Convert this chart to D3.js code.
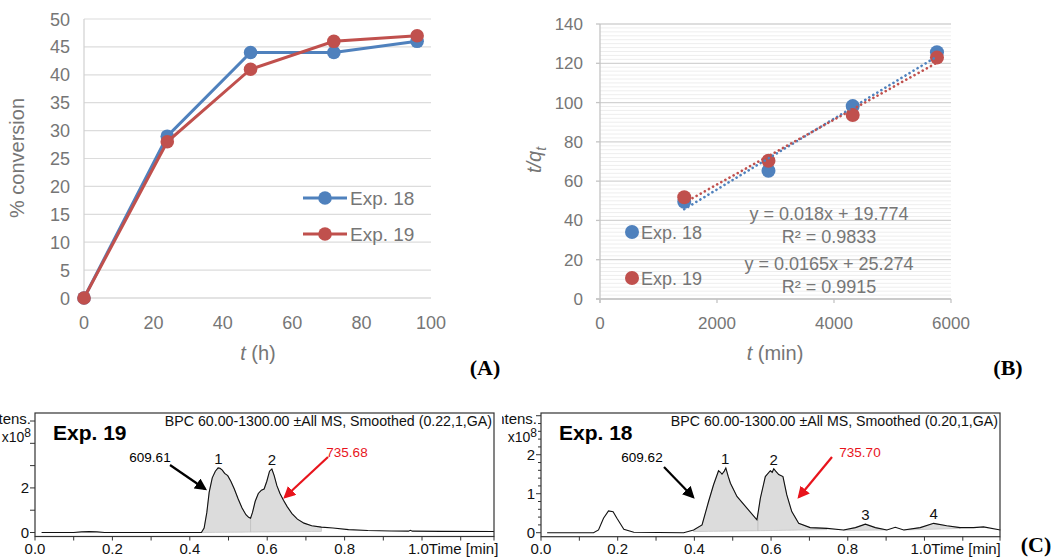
<!DOCTYPE html>
<html>
<head>
<meta charset="utf-8">
<script src="https://cdn.jsdelivr.net/npm/d3@7"></script>
<style>
body { margin: 0; background: #fff; }
text { font-family: "Liberation Sans", Arial, sans-serif; }
</style>
</head>
<body>
<div id="chart"></div>
<script>
var width_chart = 1057,
    height_chart = 558;

var color_18 = "#4f81bd";
var color_19 = "#c0504d";
var color_txt = "#767676";

// (A) conversion vs time
var conv_hours = [0, 24, 48, 72, 96];
var conv_exp18 = [0, 29, 44, 44, 46];
var conv_exp19 = [0, 28, 41, 46, 47];
var conv_ticks_y = [0, 5, 10, 15, 20, 25, 30, 35, 40, 45, 50];
var conv_ticks_x = [0, 20, 40, 60, 80, 100];

// (B) pseudo second order plot
var kin_minutes = [1440, 2880, 4320, 5760];
var kin_exp18 = [49.5, 65.3, 98.2, 125.6];
var kin_exp19 = [51.8, 70.4, 93.7, 122.9];
var kin_ticks_y = [0, 20, 40, 60, 80, 100, 120, 140];
var kin_ticks_x = [0, 2000, 4000, 6000];
var fit_slope = [0.018, 0.0165];
var fit_intercept = [19.774, 25.274];
var fit_eq = ["y = 0.018x + 19.774", "y = 0.0165x + 25.274"];
var fit_r2 = ["R\u00b2 = 0.9833", "R\u00b2 = 0.9915"];
var series_names = ["Exp. 18", "Exp. 19"];

// (C) chromatograms, time [min] / intensity x10^8
var exp19_time = [0.017, 0.10, 0.12, 0.14, 0.16, 0.18, 0.43, 0.437, 0.444, 0.45, 0.458, 0.466, 0.473, 0.478, 0.484, 0.49, 0.498, 0.506, 0.515, 0.525, 0.535, 0.545, 0.552, 0.557, 0.562, 0.569, 0.577, 0.585, 0.592, 0.599, 0.606, 0.612, 0.618, 0.625, 0.633, 0.642, 0.652, 0.664, 0.678, 0.695, 0.715, 0.74, 0.77, 0.81, 0.86, 0.92, 0.965, 0.97, 0.975, 1.05, 1.186];
var exp19_int = [0, 0, 0.03, 0.04, 0.03, 0, 0, 0.2, 0.9, 1.8, 2.45, 2.75, 2.9, 2.88, 2.8, 2.65, 2.55, 2.3, 1.95, 1.5, 1.1, 0.8, 0.68, 0.64, 0.9, 1.4, 1.75, 1.9, 1.95, 2.3, 2.75, 2.85, 2.55, 2.1, 1.75, 1.45, 1.15, 0.85, 0.6, 0.42, 0.3, 0.24, 0.2, 0.13, 0.09, 0.07, 0.06, 0.1, 0.06, 0.05, 0.045];
// [start, end, baseline at start, baseline at end]
var exp19_peaks = [[0.43, 0.557, 0, 0.02], [0.557, 0.74, 0.02, 0.05]];
var exp19_marks = [{ t: 0.474, v: 2.9, s: "1" }, { t: 0.612, v: 2.85, s: "2" }];

var exp18_time = [0.016, 0.137, 0.15, 0.163, 0.176, 0.188, 0.198, 0.216, 0.242, 0.372, 0.398, 0.42, 0.437, 0.45, 0.463, 0.468, 0.472, 0.478, 0.482, 0.488, 0.494, 0.511, 0.537, 0.563, 0.566, 0.572, 0.585, 0.598, 0.603, 0.607, 0.612, 0.62, 0.631, 0.641, 0.654, 0.672, 0.702, 0.746, 0.789, 0.82, 0.846, 0.872, 0.902, 0.924, 0.946, 0.989, 1.024, 1.058, 1.093, 1.128, 1.154, 1.198];
var exp18_int = [0, 0, 0.07, 0.37, 0.56, 0.54, 0.37, 0.09, 0.01, 0, 0.07, 0.2, 0.8, 1.23, 1.59, 1.55, 1.5, 1.58, 1.66, 1.45, 1.27, 0.93, 0.63, 0.33, 0.5, 0.88, 1.44, 1.59, 1.55, 1.64, 1.58, 1.49, 1.44, 0.97, 0.54, 0.24, 0.13, 0.11, 0.07, 0.13, 0.22, 0.13, 0.07, 0.14, 0.07, 0.13, 0.24, 0.18, 0.13, 0.13, 0.15, 0.07];
var exp18_peaks = [[0.398, 0.566, 0.03, 0.05], [0.566, 0.746, 0.05, 0.08], [0.789, 0.902, 0.06, 0.07], [0.946, 1.093, 0.07, 0.11]];
var exp18_marks = [{ t: 0.48, v: 1.66, s: "1" }, { t: 0.607, v: 1.64, s: "2" }, { t: 0.846, v: 0.22, s: "3" }, { t: 1.024, v: 0.24, s: "4" }];

var svg = d3.select("#chart").append("svg")
    .attr("width", width_chart)
    .attr("height", height_chart);

var defs = svg.append("defs");
[["head_black", "#000"], ["head_red", "#e8141c"]].forEach(function(m) {
	defs.append("marker")
		.attr("id", m[0])
		.attr("viewBox", "0 0 10 10")
		.attr("refX", 8).attr("refY", 5)
		.attr("markerWidth", 5.5).attr("markerHeight", 5.5)
		.attr("markerUnits", "strokeWidth")
		.attr("orient", "auto")
		.append("path")
		.attr("d", "M0,0 L10,5 L0,10 z")
		.style("fill", m[1]);
});
// the right chromatogram's y label is cropped by the left panel in the figure
defs.append("clipPath").attr("id", "clip_right")
	.append("rect").attr("x", 502).attr("y", 400).attr("width", 600).attr("height", 160);

/* ---------- (A) ---------- */
var xA = d3.scaleLinear().domain([0, 100]).range([84, 431]);
var yA = d3.scaleLinear().domain([0, 50]).range([298, 19]);
var gA = svg.append("g");

gA.selectAll("line.grid").data(conv_ticks_y).enter().append("line")
	.attr("x1", xA(0)).attr("x2", xA(100))
	.attr("y1", function(d) { return yA(d); })
	.attr("y2", function(d) { return yA(d); })
	.style("stroke", function(d) { return d == 0 ? "#c8c8c8" : "#dcdcdc"; })
	.style("stroke-width", 1.2);
gA.append("line")
	.attr("x1", xA(0)).attr("x2", xA(0))
	.attr("y1", yA(50)).attr("y2", yA(0))
	.style("stroke", "#d0d0d0").style("stroke-width", 1.2);

gA.selectAll("text.ty").data(conv_ticks_y).enter().append("text")
	.attr("x", 70).attr("y", function(d) { return yA(d) + 6.5; })
	.attr("text-anchor", "end")
	.style("font-size", "18px").style("fill", color_txt)
	.text(function(d) { return d; });
gA.selectAll("text.tx").data(conv_ticks_x).enter().append("text")
	.attr("x", function(d) { return xA(d); }).attr("y", 329)
	.attr("text-anchor", "middle")
	.style("font-size", "18px").style("fill", color_txt)
	.text(function(d) { return d; });

gA.append("text")
	.attr("transform", "translate(24,158) rotate(-90)")
	.attr("text-anchor", "middle")
	.style("font-size", "20px").style("fill", color_txt)
	.text("% conversion");
var labA = gA.append("text")
	.attr("x", 258).attr("y", 360)
	.attr("text-anchor", "middle")
	.style("font-size", "20px").style("fill", color_txt);
labA.append("tspan").style("font-style", "italic").text("t");
labA.append("tspan").text(" (h)");

var lineA = d3.line()
	.x(function(d) { return xA(d[0]); })
	.y(function(d) { return yA(d[1]); });

[[conv_exp18, color_18], [conv_exp19, color_19]].forEach(function(s) {
	var pts = conv_hours.map(function(h, i) { return [h, s[0][i]]; });
	gA.append("path").datum(pts)
		.attr("d", lineA)
		.style("fill", "none").style("stroke", s[1]).style("stroke-width", 3);
	gA.selectAll(null).data(pts).enter().append("circle")
		.attr("cx", function(d) { return xA(d[0]); })
		.attr("cy", function(d) { return yA(d[1]); })
		.attr("r", 6.8)
		.style("fill", s[1]);
});

// legend A
[[color_18, 198], [color_19, 234]].forEach(function(l, i) {
	gA.append("line").attr("x1", 303).attr("x2", 347).attr("y1", l[1]).attr("y2", l[1])
		.style("stroke", l[0]).style("stroke-width", 3);
	gA.append("circle").attr("cx", 325).attr("cy", l[1]).attr("r", 6.8).style("fill", l[0]);
	gA.append("text").attr("x", 350).attr("y", l[1] + 7)
		.style("font-size", "19px").style("fill", color_txt)
		.text(series_names[i]);
});

/* ---------- (B) ---------- */
var xB = d3.scaleLinear().domain([0, 6000]).range([600, 951]);
var yB = d3.scaleLinear().domain([0, 140]).range([299, 24]);
var gB = svg.append("g");

gB.selectAll("line.minor").data(d3.range(0, 141, 2)).enter().append("line")
	.attr("x1", xB(0)).attr("x2", xB(6000))
	.attr("y1", function(d) { return yB(d); })
	.attr("y2", function(d) { return yB(d); })
	.style("stroke", function(d) { return d % 20 == 0 ? "#d3d3d3" : "#eeeeee"; })
	.style("stroke-width", function(d) { return d % 20 == 0 ? 1.3 : 1; });
gB.append("line")
	.attr("x1", xB(0)).attr("x2", xB(0)).attr("y1", yB(140)).attr("y2", yB(0) + 4)
	.style("stroke", "#c4c4c4").style("stroke-width", 1.3);
gB.append("line")
	.attr("x1", xB(0) - 4).attr("x2", xB(6000)).attr("y1", yB(0)).attr("y2", yB(0))
	.style("stroke", "#c4c4c4").style("stroke-width", 1.3);
gB.selectAll("line.tky").data(kin_ticks_y).enter().append("line")
	.attr("x1", xB(0) - 4).attr("x2", xB(0))
	.attr("y1", function(d) { return yB(d); }).attr("y2", function(d) { return yB(d); })
	.style("stroke", "#c4c4c4").style("stroke-width", 1.3);
gB.selectAll("line.tkx").data(kin_ticks_x).enter().append("line")
	.attr("x1", function(d) { return xB(d); }).attr("x2", function(d) { return xB(d); })
	.attr("y1", yB(0)).attr("y2", yB(0) + 4)
	.style("stroke", "#c4c4c4").style("stroke-width", 1.3);

gB.selectAll("text.ty").data(kin_ticks_y).enter().append("text")
	.attr("x", 583).attr("y", function(d) { return yB(d) + 6; })
	.attr("text-anchor", "end")
	.style("font-size", "17px").style("fill", color_txt)
	.text(function(d) { return d; });
gB.selectAll("text.tx").data(kin_ticks_x).enter().append("text")
	.attr("x", function(d) { return xB(d); }).attr("y", 329)
	.attr("text-anchor", "middle")
	.style("font-size", "17px").style("fill", color_txt)
	.text(function(d) { return d; });

var labBy = gB.append("text")
	.attr("transform", "translate(541,160) rotate(-90)")
	.attr("text-anchor", "middle")
	.style("font-size", "20px").style("fill", color_txt).style("font-style", "italic");
labBy.append("tspan").text("t/q");
labBy.append("tspan").attr("dy", 5).style("font-size", "14px").text("t");
var labBx = gB.append("text")
	.attr("x", 775).attr("y", 360)
	.attr("text-anchor", "middle")
	.style("font-size", "20px").style("fill", color_txt);
labBx.append("tspan").style("font-style", "italic").text("t");
labBx.append("tspan").text(" (min)");

// markers and dotted trend lines
[[kin_exp18, color_18], [kin_exp19, color_19]].forEach(function(s, k) {
	gB.selectAll(null).data(kin_minutes).enter().append("circle")
		.attr("cx", function(d) { return xB(d); })
		.attr("cy", function(d, i) { return yB(s[0][i]); })
		.attr("r", 7)
		.style("fill", s[1]);
});
[color_18, color_19].forEach(function(c, k) {
	var x0 = d3.min(kin_minutes), x1 = d3.max(kin_minutes);
	gB.append("line")
		.attr("x1", xB(x0)).attr("y1", yB(fit_slope[k] * x0 + fit_intercept[k]))
		.attr("x2", xB(x1)).attr("y2", yB(fit_slope[k] * x1 + fit_intercept[k]))
		.style("stroke", c).style("stroke-width", 2.6)
		.style("stroke-linecap", "round")
		.style("stroke-dasharray", "0.1,4.6");
});

[[color_18, 232], [color_19, 278]].forEach(function(l, i) {
	gB.append("circle").attr("cx", 632).attr("cy", l[1]).attr("r", 7).style("fill", l[0]);
	gB.append("text").attr("x", 641).attr("y", l[1] + 7)
		.style("font-size", "18px").style("fill", color_txt)
		.text(series_names[i]);
});
[[213, 236], [263, 286]].forEach(function(p, i) {
	gB.append("text").attr("x", 829).attr("y", p[0] + 7).attr("text-anchor", "middle")
		.style("font-size", "18px").style("fill", color_txt).text(fit_eq[i]);
	gB.append("text").attr("x", 829).attr("y", p[1] + 7).attr("text-anchor", "middle")
		.style("font-size", "18px").style("fill", color_txt).text(fit_r2[i]);
});

/* ---------- panel letters ---------- */
[["(A)", 485, 375], ["(B)", 1008, 375], ["(C)", 1036, 552]].forEach(function(p) {
	svg.append("text").attr("x", p[1]).attr("y", p[2]).attr("text-anchor", "middle")
		.style("font-family", "'Liberation Serif', 'Times New Roman', serif")
		.style("font-weight", "bold").style("font-size", "22px")
		.text(p[0]);
});

/* ---------- (C) chromatograms ---------- */
function drawChrom(cfg) {
	var x = d3.scaleLinear().domain([0, cfg.xmax]).range([cfg.left, cfg.right]);
	var y = d3.scaleLinear().domain([0, cfg.ymax]).range([cfg.bottom, cfg.top]);
	var g = svg.append("g");
	var pts = cfg.time.map(function(t, i) { return [t, cfg.inten[i]]; });

	// shaded peaks
	cfg.peaks.forEach(function(pk) {
		var seg = pts.filter(function(d) { return d[0] >= pk[0] - 1e-9 && d[0] <= pk[1] + 1e-9; });
		var base = d3.scaleLinear().domain([pk[0], pk[1]]).range([pk[2], pk[3]]);
		g.append("path").datum(seg)
			.attr("d", d3.area()
				.x(function(d) { return x(d[0]); })
				.y0(function(d) { return y(Math.min(base(d[0]), d[1])); })
				.y1(function(d) { return y(d[1]); }))
			.style("fill", "#dcdcdc").style("stroke", "#bdbdbd").style("stroke-width", 0.7);
	});

	g.append("path").datum(pts)
		.attr("d", d3.line().x(function(d) { return x(d[0]); }).y(function(d) { return y(d[1]); }))
		.style("fill", "none").style("stroke", "#111").style("stroke-width", 1.1);

	g.append("rect")
		.attr("x", cfg.left).attr("y", cfg.top)
		.attr("width", cfg.right - cfg.left).attr("height", cfg.bottom + 4 - cfg.top)
		.style("fill", "none").style("stroke", "#333").style("stroke-width", 1.2);

	// y ticks
	g.selectAll(null).data(cfg.yticks).enter().append("line")
		.attr("x1", function(d) { return cfg.left - (d % 1 == 0 ? 5 : 3); }).attr("x2", cfg.left)
		.attr("y1", function(d) { return y(d); }).attr("y2", function(d) { return y(d); })
		.style("stroke", "#333").style("stroke-width", 1);
	g.selectAll(null).data(cfg.ylabels).enter().append("text")
		.attr("x", cfg.left - 6).attr("y", function(d) { return y(d) + 5.5; })
		.attr("text-anchor", "end")
		.style("font-size", "15px").style("fill", "#111")
		.text(function(d) { return d; });
	var ylab = g.append("g").attr("clip-path", cfg.clip ? "url(#" + cfg.clip + ")" : null);
	ylab.append("text").attr("x", cfg.left - 4).attr("y", 424).attr("text-anchor", "end")
		.style("font-size", "15px").style("fill", "#111").text("Intens.");
	var mult = ylab.append("text").attr("x", cfg.left - 4).attr("y", 442).attr("text-anchor", "end")
		.style("font-size", "14px").style("fill", "#111");
	mult.append("tspan").text("x10");
	mult.append("tspan").attr("dy", -5).style("font-size", "12px").text("8");

	// x ticks
	var xt = d3.range(0, cfg.xmax + 0.001, 0.1);
	g.selectAll(null).data(xt).enter().append("line")
		.attr("x1", function(d) { return x(d); }).attr("x2", function(d) { return x(d); })
		.attr("y1", cfg.bottom + 4).attr("y2", cfg.bottom + 8)
		.style("stroke", "#333").style("stroke-width", 1);
	g.append("line")
		.attr("x1", cfg.right).attr("x2", cfg.right).attr("y1", cfg.bottom + 4).attr("y2", cfg.bottom + 8)
		.style("stroke", "#333");
	g.selectAll(null).data([0, 0.2, 0.4, 0.6, 0.8]).enter().append("text")
		.attr("x", function(d) { return x(d); }).attr("y", 554)
		.attr("text-anchor", "middle")
		.style("font-size", "15px").style("fill", "#111")
		.text(function(d) { return d.toFixed(1); });
	g.append("text").attr("x", x(1.0) - 14).attr("y", 554)
		.style("font-size", "15px").style("fill", "#111").text("1.0Time [min]");

	g.append("text").attr("x", cfg.right - 2).attr("y", 426).attr("text-anchor", "end")
		.style("font-size", "14.2px").style("fill", "#111").text(cfg.title);
	g.append("text").attr("x", cfg.left + 18).attr("y", 440)
		.style("font-size", "21px").style("font-weight", "bold").style("fill", "#000")
		.text(cfg.name);

	g.selectAll(null).data(cfg.marks).enter().append("text")
		.attr("x", function(d) { return x(d.t); })
		.attr("y", function(d) { return y(d.v) - 4; })
		.attr("text-anchor", "middle")
		.style("font-size", "15px").style("fill", "#111")
		.text(function(d) { return d.s; });

	cfg.arrows.forEach(function(a) {
		g.append("line")
			.attr("x1", a.x1).attr("y1", a.y1).attr("x2", a.x2).attr("y2", a.y2)
			.style("stroke", a.color).style("stroke-width", 2.2)
			.attr("marker-end", "url(#" + a.head + ")");
		g.append("text").attr("x", a.lx).attr("y", a.ly).attr("text-anchor", "middle")
			.style("font-size", "13.5px").style("fill", a.color).text(a.label);
	});
}

drawChrom({
	left: 35, right: 494, top: 413, bottom: 532.5, xmax: 1.186, ymax: 5.36,
	time: exp19_time, inten: exp19_int, peaks: exp19_peaks, marks: exp19_marks,
	yticks: [0, 1, 2, 3, 4, 5], ylabels: [0, 2], clip: null,
	title: "BPC 60.00-1300.00 \u00b1All MS, Smoothed (0.22,1,GA)", name: "Exp. 19",
	arrows: [
		{ x1: 170, y1: 465, x2: 205, y2: 489, color: "#000", head: "head_black", label: "609.61", lx: 150, ly: 462 },
		{ x1: 328, y1: 457, x2: 285, y2: 497, color: "#e8141c", head: "head_red", label: "735.68", lx: 347, ly: 457 }
	]
});

drawChrom({
	left: 541, right: 1000, top: 413, bottom: 532.7, xmax: 1.197, ymax: 3.07,
	time: exp18_time, inten: exp18_int, peaks: exp18_peaks, marks: exp18_marks,
	yticks: d3.range(0, 3.01, 0.2).map(function(v) { return Math.round(v * 10) / 10; }), ylabels: [0, 1, 2],
	clip: "clip_right",
	title: "BPC 60.00-1300.00 \u00b1All MS, Smoothed (0.20,1,GA)", name: "Exp. 18",
	arrows: [
		{ x1: 664, y1: 467, x2: 693, y2: 497, color: "#000", head: "head_black", label: "609.62", lx: 642, ly: 462 },
		{ x1: 832, y1: 457, x2: 799, y2: 497, color: "#e8141c", head: "head_red", label: "735.70", lx: 860, ly: 457 }
	]
});
</script>
</body>
</html>
